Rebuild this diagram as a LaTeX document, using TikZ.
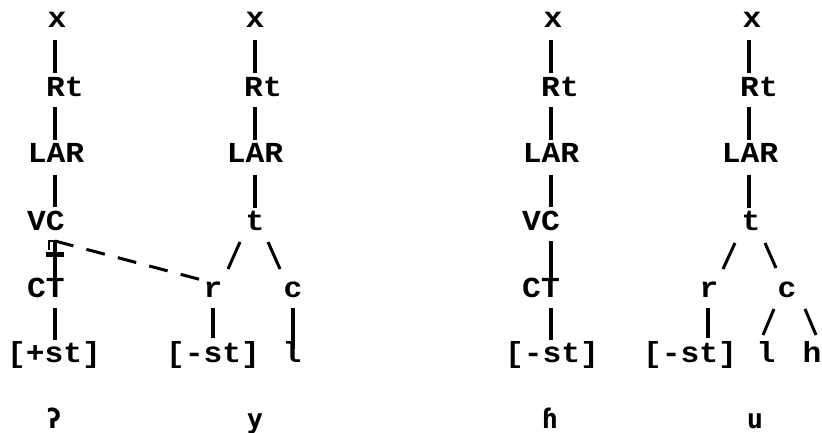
\documentclass[tikz,border=0pt]{standalone}
\usepackage{fontspec}
\usetikzlibrary{calc}
\newfontfamily\tw[FakeStretch=1.08]{Liberation Mono Bold}
\newfontfamily\ipafont{DejaVu Sans Mono}
\begin{document}
\begin{tikzpicture}[x=1pt,y=-1pt,
  lab/.style={inner sep=0pt, anchor=base, font=\tw\fontsize{29}{29}\selectfont},
  ipalab/.style={inner sep=0pt, anchor=base, font=\ipafont\bfseries\fontsize{27}{27}\selectfont},
  vl/.style={line width=3.4pt},
  sl/.style={line width=3pt},
  dl/.style={line width=3pt, dash pattern=on 19pt off 13.5pt},
  bar/.style={line width=4.5pt}]
\fill[white] (0,0) rectangle (822,433);
\useasboundingbox (0,0) rectangle (822,433);

% ---------- column 1 ----------
\coordinate (L1) at (55,0);
\node[lab] (x1)   at (57,28)  {x};
\node[lab] (rt1)  at (65,97)  {Rt};
\node[lab] (lar1) at (56,163) {LAR};
\node[lab] (vc1)  at (46,230) {VC};
\node[lab] (ct1)  at (46,297) {CT};
\node[lab] (st1)  at (54,362) {[+st]};
\node[ipalab] (g1) at (54,428) {ʔ};
\draw[vl] ($(x1.base -| L1)+(0,12)$)   -- ($(rt1.base -| L1)+(0,-24)$);
\draw[vl] ($(rt1.base -| L1)+(0,10)$)  -- ($(lar1.base -| L1)+(0,-23)$);
\draw[vl] ($(lar1.base -| L1)+(0,12)$) -- ($(vc1.base -| L1)+(0,-23)$);
\draw[vl] ($(vc1.base -| L1)+(0,11)$)  -- ($(ct1.base -| L1)+(0,-17)$);
\draw[vl] ($(ct1.base -| L1)+(0,11)$)  -- ($(st1.base -| L1)+(0,-22)$);
% delinking bar
\draw[bar] ($(vc1.base -| L1)+(-9,24.5)$) -- ($(vc1.base -| L1)+(9,24.5)$);
\draw[line width=2.2pt] ($(vc1.base -| L1)+(-6,20)$) -- ($(vc1.base -| L1)+(-6,11)$) -- ($(vc1.base -| L1)+(1,11)$);

% ---------- column 2 ----------
\coordinate (L2) at (255,0);
\node[lab] (x2)   at (255,28)  {x};
\node[lab] (rt2)  at (263,97)  {Rt};
\node[lab] (lar2) at (255,163) {LAR};
\node[lab] (t2)   at (255,230) {t};
\node[lab] (r2)   at (213,297) {r};
\node[lab] (c2)   at (293,297) {c};
\node[lab] (st2)  at (213,362) {[-st]};
\node[lab] (l2)   at (292,362) {l};
\node[ipalab] (y2) at (255,428) {y};
\draw[vl] ($(x2.base -| L2)+(0,12)$)   -- ($(rt2.base -| L2)+(0,-24)$);
\draw[vl] ($(rt2.base -| L2)+(0,10)$)  -- ($(lar2.base -| L2)+(0,-23)$);
\draw[vl] ($(lar2.base -| L2)+(0,12)$) -- ($(t2.base -| L2)+(0,-22)$);
\draw[sl] ($(t2.base)+(-15,12)$) -- ($(r2.base)+(15,-28)$);
\draw[sl] ($(t2.base)+(13,12)$)  -- ($(c2.base)+(-13,-28)$);
\draw[vl] ($(r2.base)+(0,11)$) -- ($(st2.base -| r2.base)+(0,-24)$);
\draw[vl] ($(c2.base)+(0,11)$) -- ($(l2.base -| c2.base)+(0,-13)$);
\draw[dl] ($(vc1.base -| L1)+(0,11)$) -- ($(r2.base)+(-11,-17)$);

% ---------- column 3 ----------
\coordinate (L3) at (551,0);
\node[lab] (x3)   at (553,28)  {x};
\node[lab] (rt3)  at (560,97)  {Rt};
\node[lab] (lar3) at (551,163) {LAR};
\node[lab] (vc3)  at (541,230) {VC};
\node[lab] (ct3)  at (541,297) {CT};
\node[lab] (st3)  at (552,362) {[-st]};
\node[ipalab] (h3) at (550,428) {ɦ};
\draw[vl] ($(x3.base -| L3)+(0,12)$)   -- ($(rt3.base -| L3)+(0,-24)$);
\draw[vl] ($(rt3.base -| L3)+(0,10)$)  -- ($(lar3.base -| L3)+(0,-23)$);
\draw[vl] ($(lar3.base -| L3)+(0,12)$) -- ($(vc3.base -| L3)+(0,-23)$);
\draw[vl] ($(vc3.base -| L3)+(0,11)$)  -- ($(ct3.base -| L3)+(0,-17)$);
\draw[vl] ($(ct3.base -| L3)+(0,11)$)  -- ($(st3.base -| L3)+(0,-22)$);

% ---------- column 4 ----------
\coordinate (L4) at (749,0);
\node[lab] (x4)   at (752,28)  {x};
\node[lab] (rt4)  at (759,97)  {Rt};
\node[lab] (lar4) at (750,163) {LAR};
\node[lab] (t4)   at (751,230) {t};
\node[lab] (r4)   at (709,297) {r};
\node[lab] (c4)   at (787,297) {c};
\node[lab] (st4)  at (690,362) {[-st]};
\node[lab] (l4)   at (766,362) {l};
\node[lab] (h4)   at (812,362) {h};
\node[ipalab] (u4) at (755,428) {u};
\draw[vl] ($(x4.base -| L4)+(0,12)$)   -- ($(rt4.base -| L4)+(0,-24)$);
\draw[vl] ($(rt4.base -| L4)+(0,10)$)  -- ($(lar4.base -| L4)+(0,-23)$);
\draw[vl] ($(lar4.base -| L4)+(0,12)$) -- ($(t4.base -| L4)+(0,-22)$);
\draw[sl] ($(t4.base)+(-16,13)$) -- ($(r4.base)+(14,-28)$);
\draw[sl] ($(t4.base)+(14,13)$)  -- ($(c4.base)+(-11,-29)$);
\draw[vl] ($(r4.base)+(-1,11)$) -- ($(st4.base -| r4.base)+(-1,-24)$);
\draw[sl] ($(c4.base)+(-13,12)$) -- ($(l4.base)+(-3,-27)$);
\draw[sl] ($(c4.base)+(18,12)$)  -- ($(h4.base)+(4,-27)$);
\end{tikzpicture}
\end{document}
